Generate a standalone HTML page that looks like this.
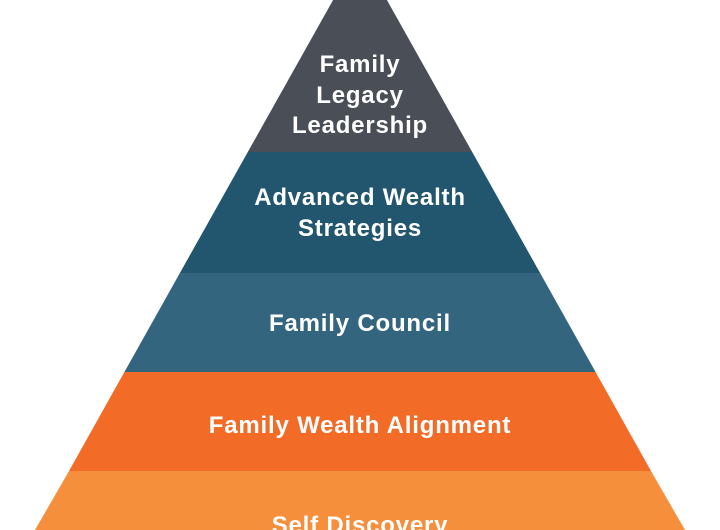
<!DOCTYPE html>
<html><head><meta charset="utf-8"><style>
html,body{margin:0;padding:0;background:#fff;}
svg{display:block;}
text{font-family:"Liberation Sans",sans-serif;font-weight:bold;font-size:24px;fill:#fff;text-anchor:middle;letter-spacing:0.8px;}
</style></head><body>
<svg width="720" height="530" viewBox="0 0 720 530">
<polygon points="333.1,0 386.9,0 472.2,152 247.8,152" fill="#4a4e56"/>
<polygon points="247.8,152 472.2,152 540.1,273 179.9,273" fill="#22566f"/>
<polygon points="179.9,273 540.1,273 595.6,372 124.4,372" fill="#33657f"/>
<polygon points="124.4,372 595.6,372 651,471 69,471" fill="#f36c27"/>
<polygon points="69,471 651,471 685,530 35,530" fill="#f68f3b"/>
<text x="360" y="72">Family</text>
<text x="360" y="103">Legacy</text>
<text x="360" y="133">Leadership</text>
<text x="360" y="205">Advanced Wealth</text>
<text x="360" y="236">Strategies</text>
<text x="360" y="331">Family Council</text>
<text x="360" y="433">Family Wealth Alignment</text>
<text x="360" y="533">Self Discovery</text>
</svg>
</body></html>
